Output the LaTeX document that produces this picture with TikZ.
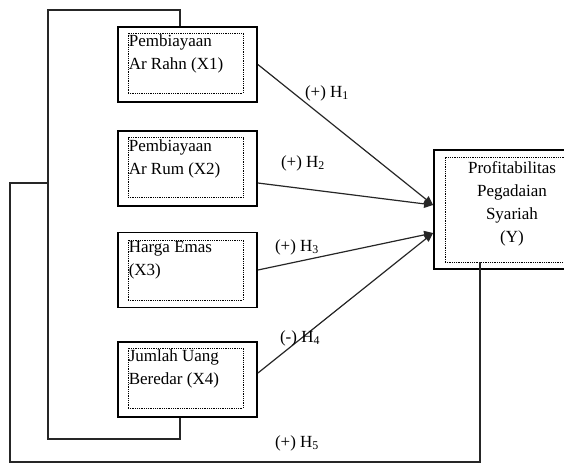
\documentclass[tikz,border=0pt]{standalone}
\usepackage{fontspec}
\setmainfont{Liberation Serif}
\usepackage{tikz}
\usetikzlibrary{arrows.meta,positioning,calc}

\begin{document}
\begin{tikzpicture}[
    x=1pt, y=-1pt,
    outer/.style={draw, line width=1.8pt, inner sep=0pt, minimum width=139pt, minimum height=75pt},
    dotbox/.style={draw, densely dotted, line width=0.8pt, inner sep=0pt, minimum width=115pt, minimum height=60pt},
    txt/.style={anchor=north west, inner sep=1pt, align=left, font=\fontsize{17}{23}\selectfont},
    hyp/.style={inner sep=1pt, font=\fontsize{17}{20}\selectfont},
    line/.style={line width=1.2pt, black!85},
    arrow/.style={line, -{Triangle[length=9pt,width=8pt]}}
]
    \clip (0,0) rectangle (564,464);

    % Independent variables
    \node[outer] (x1) at (187.5,64.5) {};
    \node[dotbox] (x1in) at (185.5,63) {};
    \node[txt] (x1txt) at ([yshift=-1pt]x1in.north west) {Pembiayaan\\Ar Rahn (X1)};

    \node[outer] (x2) at (187.5,168.5) {};
    \node[dotbox] (x2in) at (185.5,167.5) {};
    \node[txt] (x2txt) at ([yshift=-1pt]x2in.north west) {Pembiayaan\\Ar Rum (X2)};

    \node[outer] (x3) at (187.5,270) {};
    \node[dotbox] (x3in) at (185.5,270) {};
    \node[txt] (x3txt) at ([yshift=-1pt]x3in.north west) {Harga Emas\\(X3)};

    \node[outer] (x4) at (187.5,379.5) {};
    \node[dotbox] (x4in) at (185.5,378) {};
    \node[txt] (x4txt) at ([yshift=-1pt]x4in.north west) {Jumlah Uang\\Beredar (X4)};

    % Dependent variable
    \node[outer, minimum width=154pt, minimum height=119pt] (y) at (511,209.5) {};
    \node[dotbox, minimum width=134pt, minimum height=105pt] (yin) at (512,209.5) {};
    \node[txt, anchor=north, align=center] (ytxt) at ([yshift=-4pt]yin.north) {Profitabilitas\\Pegadaian\\Syariah\\(Y)};

    % Hypothesis paths
    \draw[arrow] (x1.east) -- ([yshift=4.5pt]y.west);
    \draw[arrow] ([yshift=-14.5pt]x2.east) -- ([yshift=4.5pt]y.west);
    \draw[arrow] (x3.east) -- ([yshift=-23.5pt]y.west);
    \draw[arrow] ([yshift=6.5pt]x4.east) -- ([yshift=-23.5pt]y.west);

    \node[hyp] (h1) at (327,93) {(+) H\textsubscript{1}};
    \node[hyp] (h2) at (303,163) {(+) H\textsubscript{2}};
    \node[hyp] (h3) at (297,247) {(+) H\textsubscript{3}};
    \node[hyp] (h4) at (300,338) {(-) H\textsubscript{4}};
    \node[hyp] (h5) at (297,443) {(+) H\textsubscript{5}};

    % Simultaneous path (H5)
    \coordinate (loopTop) at (48,10);
    \coordinate (loopBot) at (48,439);
    \coordinate (junc) at (48,183);
    \coordinate (outerL) at (10,183);
    \coordinate (outerB) at (10,462);
    \draw[line] ([xshift=-7.5pt]x1.north) |- (loopTop) -- (loopBot) -| ([xshift=-7.5pt]x4.south);
    \draw[line] (junc) -- (outerL) -- (outerB) -| ([xshift=-32pt]yin.south);

\end{tikzpicture}
\end{document}
